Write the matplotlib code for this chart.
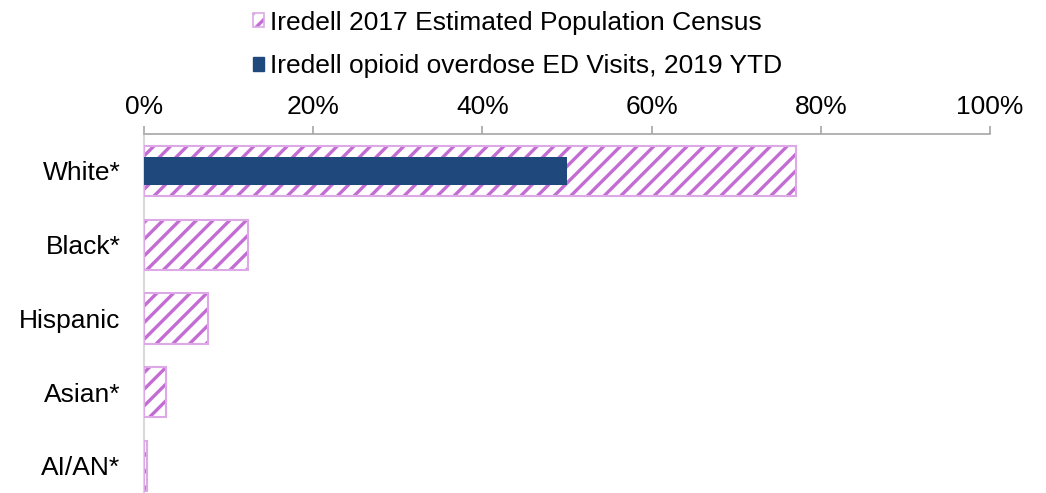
import matplotlib.pyplot as plt
import numpy as np
from matplotlib.patches import Patch

plt.rcParams['font.family'] = ['Liberation Sans', 'DejaVu Sans']
plt.rcParams['hatch.linewidth'] = 2.4

# Datos
categorias = ['White*', 'Black*', 'Hispanic', 'Asian*', 'AI/AN*']
censo_2017 = [77.1, 12.3, 7.6, 2.6, 0.3]
visitas_ed_2019 = [50.0, 0, 0, 0, 0]
ticks_x = [0, 20, 40, 60, 80, 100]

color_hatch = '#C36CD4'
color_borde = '#DCA9E6'
color_ed = '#1F497D'

fig = plt.figure(figsize=(10.46, 4.93), dpi=100)
ax = fig.add_axes([144 / 1046, -0.02, 846 / 1046, 0.748])

y = np.arange(len(categorias))

# Censo (rayado)
ax.barh(y, censo_2017, height=0.68, color='white', edgecolor=color_hatch,
        hatch='//', linewidth=0, zorder=2)
ax.barh(y, censo_2017, height=0.68, fill=False, edgecolor=color_borde,
        linewidth=1.5, zorder=3)
# Visitas ED
ax.barh(y, visitas_ed_2019, height=0.39, color=color_ed, zorder=4)

ax.set_xlim(0, 100)
ax.set_ylim(4.5, -0.5)
ax.set_xticks(ticks_x)
ax.set_xticklabels([f'{t}%' for t in ticks_x], fontsize=19)
ax.set_yticks(y)
ax.set_yticklabels(categorias, fontsize=19)
ax.xaxis.tick_top()
ax.tick_params(axis='x', direction='out', length=6, width=1.2, color='#A6A6A6', pad=5)
ax.tick_params(axis='y', length=0, pad=17)

for s in ['right', 'bottom']:
    ax.spines[s].set_visible(False)
ax.spines['top'].set_color('#A6A6A6')
ax.spines['top'].set_linewidth(1.2)
ax.spines['left'].set_color('#D9D9D9')
ax.spines['left'].set_linewidth(1.5)

# Leyenda
h1 = Patch(facecolor='white', edgecolor=color_hatch, hatch='//', linewidth=0)
h1b = Patch(fill=False, edgecolor=color_borde, linewidth=1.2)
h2 = Patch(facecolor=color_ed, edgecolor=color_ed)
fig.legend([(h1, h1b), h2], ['Iredell 2017 Estimated Population Census',
                             'Iredell opioid overdose ED Visits, 2019 YTD'],
           loc='upper left', bbox_to_anchor=(242 / 1046, 1.0), frameon=False,
           fontsize=19, handlelength=0.45, handleheight=0.45, handletextpad=0.2,
           labelspacing=0.75, borderaxespad=0, borderpad=0.4)

plt.savefig('out.png', dpi=100)
